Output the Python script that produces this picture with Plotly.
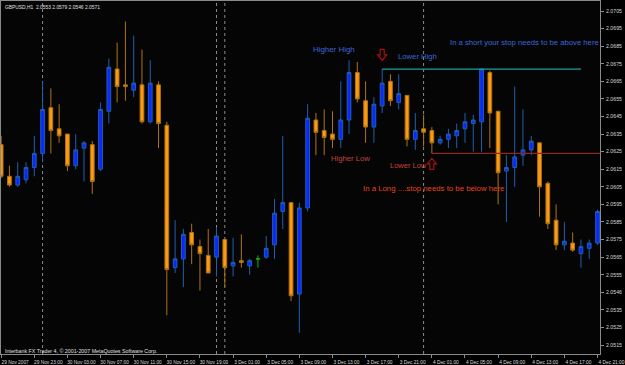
import plotly.graph_objects as go

# ---------------- data ----------------
bars = list(range(73))
opens = [2.0629, 2.0611, 2.0606, 2.0609, 2.0616, 2.0624, 2.0650, 2.0638, 2.0635, 2.0617,
         2.0627, 2.0629, 2.0615, 2.0648, 2.0672, 2.0663, 2.0660, 2.0663, 2.0642, 2.0663,
         2.0640, 2.0559, 2.0564, 2.0579, 2.0571, 2.0566, 2.0565, 2.0575, 2.0560, 2.0563,
         2.0560, 2.0564, 2.0565, 2.0572, 2.0591, 2.0596, 2.0544, 2.0593, 2.0643, 2.0637,
         2.0635, 2.0632, 2.0643, 2.0670, 2.0654, 2.0639, 2.0651, 2.0665, 2.0653, 2.0657,
         2.0632, 2.0638, 2.0637, 2.0630, 2.0632, 2.0634, 2.0638, 2.0641, 2.0642, 2.0670,
         2.0648, 2.0614, 2.0616, 2.0623, 2.0626, 2.0630, 2.0607, 2.0586, 2.0572, 2.0573,
         2.0567, 2.0570, 2.0573]
highs = [2.0634, 2.0617, 2.0619, 2.0619, 2.0634, 2.0665, 2.0661, 2.0652, 2.0635, 2.0635,
         2.0631, 2.0631, 2.0653, 2.0678, 2.0687, 2.0699, 2.0691, 2.0683, 2.0677, 2.0665,
         2.0642, 2.0586, 2.0581, 2.0584, 2.0575, 2.0581, 2.0582, 2.0575, 2.0576, 2.0578,
         2.0564, 2.0566, 2.0577, 2.0598, 2.0634, 2.0596, 2.0596, 2.0652, 2.0647, 2.0649,
         2.0648, 2.0665, 2.0677, 2.0676, 2.0665, 2.0656, 2.0672, 2.0669, 2.0669, 2.0657,
         2.0647, 2.0646, 2.0639, 2.0634, 2.0638, 2.0641, 2.0647, 2.0646, 2.0672, 2.0671,
         2.0648, 2.0623, 2.0662, 2.0649, 2.0634, 2.0630, 2.0608, 2.0595, 2.0585, 2.0579,
         2.0575, 2.0575, 2.0592]
lows = [2.0610, 2.0605, 2.0605, 2.0607, 2.0611, 2.0619, 2.0624, 2.0630, 2.0614, 2.0615,
        2.0608, 2.0601, 2.0614, 2.0641, 2.0653, 2.0654, 2.0656, 2.0641, 2.0641, 2.0627,
        2.0532, 2.0556, 2.0548, 2.0561, 2.0546, 2.0556, 2.0554, 2.0548, 2.0554, 2.0559,
        2.0555, 2.0559, 2.0564, 2.0564, 2.0581, 2.0540, 2.0522, 2.0591, 2.0623, 2.0623,
        2.0627, 2.0627, 2.0635, 2.0653, 2.0630, 2.0630, 2.0647, 2.0651, 2.0649, 2.0628,
        2.0626, 2.0628, 2.0624, 2.0629, 2.0627, 2.0627, 2.0630, 2.0625, 2.0625, 2.0627,
        2.0595, 2.0585, 2.0605, 2.0617, 2.0623, 2.0588, 2.0581, 2.0569, 2.0569, 2.0568,
        2.0559, 2.0564, 2.0572]
closes = [2.0611, 2.0606, 2.0611, 2.0616, 2.0624, 2.0649, 2.0637, 2.0634, 2.0617, 2.0626,
          2.0630, 2.0608, 2.0649, 2.0673, 2.0662, 2.0662, 2.0664, 2.0642, 2.0664, 2.0641,
          2.0558, 2.0564, 2.0578, 2.0572, 2.0567, 2.0556, 2.0577, 2.0559, 2.0562, 2.0562,
          2.0563, 2.0564, 2.0570, 2.0590, 2.0596, 2.0543, 2.0593, 2.0644, 2.0636, 2.0633,
          2.0632, 2.0643, 2.0670, 2.0655, 2.0639, 2.0652, 2.0664, 2.0654, 2.0658, 2.0632,
          2.0637, 2.0636, 2.0630, 2.0632, 2.0635, 2.0637, 2.0642, 2.0643, 2.0672, 2.0647,
          2.0613, 2.0616, 2.0622, 2.0626, 2.0631, 2.0605, 2.0584, 2.0572, 2.0574, 2.0569,
          2.0571, 2.0573, 2.0591]

xtick_bars = list(range(0, 73, 4))
xtick_labels = ["29 Nov 2007", "29 Nov 23:00", "30 Nov 03:00", "30 Nov 07:00", "30 Nov 11:00",
                "30 Nov 15:00", "30 Nov 19:00", "3 Dec 01:00", "3 Dec 05:00", "3 Dec 09:00",
                "3 Dec 13:00", "3 Dec 17:00", "3 Dec 21:00", "4 Dec 01:00", "4 Dec 05:00",
                "4 Dec 09:00", "4 Dec 13:00", "4 Dec 17:00", "4 Dec 21:00"]
ytick_values = [2.0515, 2.0525, 2.0535, 2.0545, 2.0555, 2.0565, 2.0575, 2.0585, 2.0595, 2.0605,
                2.0615, 2.0625, 2.0635, 2.0645, 2.0655, 2.0665, 2.0675, 2.0685, 2.0695, 2.0705]
ytick_labels = ["2.0515", "2.0525", "2.0535", "2.0546", "2.0555", "2.0565", "2.0575", "2.0585",
                "2.0595", "2.0605", "2.0615", "2.0625", "2.0635", "2.0645", "2.0655", "2.0665",
                "2.0675", "2.0685", "2.0695", "2.0705"]

day_separator_bars = [5, 26, 27, 51]
resistance_level = 2.0672
resistance_bars = [46, 70]
support_level = 2.0624
support_bars = [52, 72.3]

# ---------------- styling ----------------
BULL_BODY = "#0a28ff"
BULL_WICK = "#1f5fb0"
BEAR_BODY = "#ff9a10"
BEAR_WICK = "#b07412"
DOJI = "#10b010"
FONT = "Liberation Sans"
ARROW = "#a81010"

main_idx = [i for i in bars if opens[i] != closes[i]]
doji_idx = [i for i in bars if opens[i] == closes[i]]

fig = go.Figure()
fig.add_trace(go.Candlestick(
    x=[bars[i] for i in main_idx],
    open=[opens[i] for i in main_idx],
    high=[highs[i] for i in main_idx],
    low=[lows[i] for i in main_idx],
    close=[closes[i] for i in main_idx],
    increasing=dict(line=dict(color=BULL_WICK, width=1), fillcolor=BULL_BODY),
    decreasing=dict(line=dict(color=BEAR_WICK, width=1), fillcolor=BEAR_BODY),
    whiskerwidth=0, showlegend=False, hoverinfo="skip",
))
fig.add_trace(go.Candlestick(
    x=[bars[i] for i in doji_idx],
    open=[opens[i] for i in doji_idx],
    high=[highs[i] for i in doji_idx],
    low=[lows[i] for i in doji_idx],
    close=[closes[i] for i in doji_idx],
    increasing=dict(line=dict(color=DOJI, width=1), fillcolor=DOJI),
    decreasing=dict(line=dict(color=DOJI, width=1), fillcolor=DOJI),
    whiskerwidth=0, showlegend=False, hoverinfo="skip",
))

shapes = []
for b in day_separator_bars:
    shapes.append(dict(type="line", xref="x", yref="paper", x0=b, x1=b, y0=0, y1=1,
                       line=dict(color="#8a8a8a", width=1, dash="dot"), layer="below"))
shapes.append(dict(type="line", xref="x", yref="y", x0=resistance_bars[0], x1=resistance_bars[1],
                   y0=resistance_level, y1=resistance_level,
                   line=dict(color="#1aa39a", width=1.2), layer="above"))
shapes.append(dict(type="line", xref="x", yref="y", x0=support_bars[0], x1=support_bars[1],
                   y0=support_level, y1=support_level,
                   line=dict(color="#8c2a1e", width=1.2), layer="above"))
# hollow arrows (down at lower high, up at lower low)
down_arrow = "M-2,5.5 L2,5.5 L2,0 L4.5,0 L0,-5.5 L-4.5,0 L-2,0 Z"
up_arrow = "M-2,-5.5 L2,-5.5 L2,0 L4.5,0 L0,5.5 L-4.5,0 L-2,0 Z"
for (ax, ay, pth) in [(46.0, 2.0680, down_arrow), (52.0, 2.0618, up_arrow)]:
    shapes.append(dict(type="path", xref="x", yref="y", xsizemode="pixel", ysizemode="pixel",
                       xanchor=ax, yanchor=ay, path=pth,
                       line=dict(color=ARROW, width=1.2), fillcolor="rgba(0,0,0,0)",
                       layer="above"))

BLUE_TXT = "#3b68d6"
RED_TXT = "#c8443a"
annotations = [
    dict(x=37.4, y=2.0683, text="Higher High", font=dict(color=BLUE_TXT, size=7.9, family=FONT)),
    dict(x=47.7, y=2.0679, text="Lower High", font=dict(color=BLUE_TXT, size=7.7, family=FONT)),
    dict(x=53.9, y=2.0687, text="In a short your stop needs to be above here",
         font=dict(color=BLUE_TXT, size=7.7, family=FONT)),
    dict(x=39.6, y=2.0621, text="Higher Low", font=dict(color=RED_TXT, size=7.7, family=FONT)),
    dict(x=46.7, y=2.0617, text="Lower Low", font=dict(color=RED_TXT, size=7.5, family=FONT)),
    dict(x=43.4, y=2.0604, text="In a Long ....stop needs to be below here",
         font=dict(color="#e8441a", size=7.8, family=FONT)),
]
for a in annotations:
    a.update(xref="x", yref="y", xanchor="left", yanchor="middle", showarrow=False)
annotations += [
    dict(x=0.004, y=0.983, xref="paper", yref="paper", xanchor="left", yanchor="middle",
         text="GBPUSD,H1  2.0553 2.0579 2.0546 2.0571", showarrow=False,
         font=dict(color="#e0e0e0", size=4.9, family=FONT)),
    dict(x=0.004, y=0.008, xref="paper", yref="paper", xanchor="left", yanchor="middle",
         text="Interbank FX Trader 4, © 2001-2007 MetaQuotes Software Corp.", showarrow=False,
         font=dict(color="#e0e0e0", size=5.3, family=FONT)),
]

fig.update_layout(
    width=625, height=365,
    margin=dict(l=1, r=21, t=0, b=10, pad=0),
    paper_bgcolor="#000000", plot_bgcolor="#050505",
    boxgap=0.36,
    shapes=shapes, annotations=annotations,
    xaxis=dict(range=[-0.02, 72.3], rangeslider=dict(visible=False), showgrid=False,
               zeroline=False, showline=True, linecolor="#8a8a8a", linewidth=1, mirror=True,
               tickmode="array", tickvals=xtick_bars, ticktext=xtick_labels, tickangle=0,
               ticks="outside", ticklen=3, tickcolor="#8a8a8a",
               ticklabelshift=14, ticklabelstandoff=0, ticklabeloverflow="allow",
               tickfont=dict(color="#d8d8d8", size=4.8, family=FONT)),
    yaxis=dict(range=[2.05099, 2.07107], side="right", showgrid=False, zeroline=False,
               showline=True, linecolor="#8a8a8a", linewidth=1, mirror=True,
               tickmode="array", tickvals=ytick_values, ticktext=ytick_labels,
               ticks="outside", ticklen=3, tickcolor="#8a8a8a", ticklabelstandoff=1,
               tickfont=dict(color="#d8d8d8", size=5.2, family=FONT)),
)

fig.write_html("out.html")
